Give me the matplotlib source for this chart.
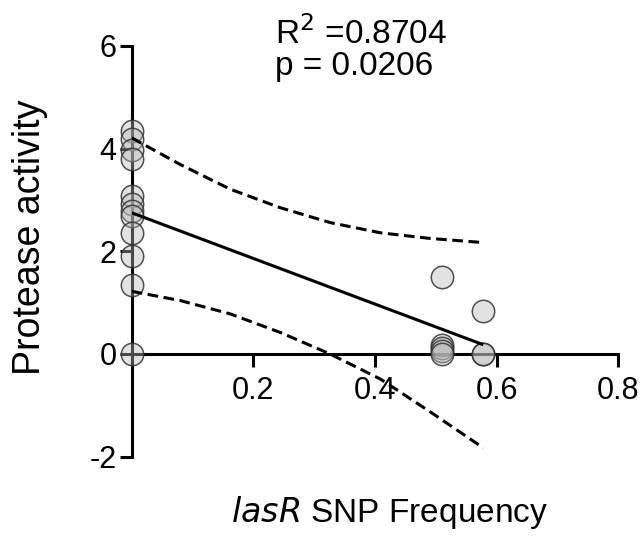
import numpy as np
import matplotlib
matplotlib.use("Agg")
import matplotlib.pyplot as plt

plt.rcParams['font.family'] = ['Liberation Sans', 'DejaVu Sans']

# protease activity against lasR SNP frequency
snp_freq = [0, 0, 0, 0, 0, 0, 0, 0, 0, 0, 0, 0,
            0.51, 0.51, 0.51, 0.51, 0.51, 0.578, 0.578, 0.578]
protease = [4.34, 4.18, 3.98, 3.79, 3.08, 2.92, 2.78, 2.68, 2.35, 1.91, 1.34, 0,
            1.50, 0.17, 0.11, 0.05, 0.0, 0.84, 0.0, 0.0]

# linear fit and 95% confidence band
fit_x = [0, 0.578]
fit_y = [2.75, 0.18]
band_x = [0, 0.08, 0.162, 0.244, 0.326, 0.409, 0.491, 0.578]
band_hi = [4.21, 3.69, 3.21, 2.85, 2.56, 2.36, 2.25, 2.17]
band_lo = [1.22, 1.04, 0.78, 0.42, 0.0, -0.49, -1.13, -1.83]

r2_text = "R$^2$ =0.8704"
p_text = "p = 0.0206"

fig = plt.figure(figsize=(6.44, 5.41), dpi=100)
ax = fig.add_axes([0.2045, 0.156, 0.7556, 0.759])

ax.scatter(snp_freq, protease, s=260, facecolor=(0.72, 0.72, 0.72, 0.4),
           edgecolor=(0.2, 0.2, 0.2, 0.85), linewidth=1.1, zorder=2, clip_on=False)
ax.plot(fit_x, fit_y, color='black', lw=2.2, zorder=3, solid_capstyle='butt')
ax.plot(band_x, band_hi, color='black', lw=2.2, dashes=(3.5, 1.8), zorder=3)
ax.plot(band_x, band_lo, color='black', lw=2.2, dashes=(3.5, 1.8), zorder=3)

ax.set_xlim(0, 0.8)
ax.set_ylim(-2, 6)
ax.spines['left'].set_position(('data', 0))
ax.spines['bottom'].set_position(('data', 0))
ax.spines['right'].set_visible(False)
ax.spines['top'].set_visible(False)
for s in ('left', 'bottom'):
    ax.spines[s].set_linewidth(2.2)
    ax.spines[s].set_zorder(1)

ax.set_xticks([0.2, 0.4, 0.6, 0.8])
ax.set_xticklabels(['0.2', '0.4', '0.6', '0.8'])
ax.set_yticks([-2, 0, 2, 4, 6])
ax.set_yticklabels(['-2', '0', '2', '4', '6'])
ax.tick_params(axis='both', direction='out', length=9, width=2.2, labelsize=22)
ax.tick_params(axis='x', pad=7)
ax.tick_params(axis='y', pad=2)

ax.set_ylabel("Protease activity", fontsize=27)
ax.yaxis.set_label_coords(-0.172, 0.535)
ax.set_xlabel("$\\it{lasR}$ SNP Frequency", fontsize=24)
ax.xaxis.set_label_coords(0.53, -0.09)

fig.text(0.427, 0.970, r2_text, fontsize=24, va='top', ha='left')
fig.text(0.427, 0.905, p_text, fontsize=24, va='top', ha='left')

fig.savefig('out.png', dpi=100)
